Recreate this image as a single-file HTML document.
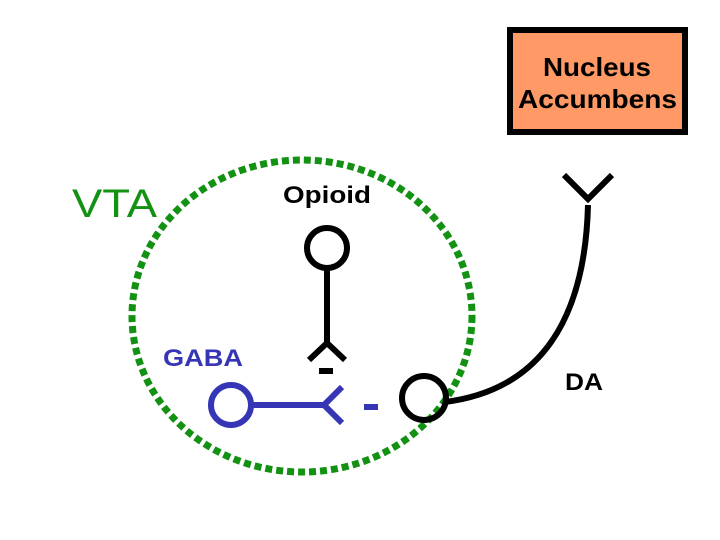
<!DOCTYPE html>
<html><head><style>body{margin:0;background:#fff}svg{display:block}</style></head><body>
<svg width="720" height="540" viewBox="0 0 720 540" xmlns="http://www.w3.org/2000/svg" font-family="Liberation Sans, sans-serif">
<rect x="0" y="0" width="720" height="540" fill="#fff"/>
<ellipse cx="302" cy="316" rx="170" ry="156" fill="none" stroke="#129112" stroke-width="7" stroke-dasharray="7 4"/>
<rect x="510" y="30" width="175" height="102" fill="#FF9966" stroke="#000" stroke-width="6"/>
<text x="543" y="76" font-size="26" font-weight="bold" textLength="108" lengthAdjust="spacingAndGlyphs">Nucleus</text>
<text x="518" y="108" font-size="26" font-weight="bold" textLength="159" lengthAdjust="spacingAndGlyphs">Accumbens</text>
<text x="72" y="217" font-size="40" fill="#129112" textLength="85" lengthAdjust="spacingAndGlyphs">VTA</text>
<text x="283" y="203" font-size="24" font-weight="bold" textLength="88" lengthAdjust="spacingAndGlyphs">Opioid</text>
<text x="163" y="366" font-size="24" font-weight="bold" fill="#3535B5" textLength="80" lengthAdjust="spacingAndGlyphs">GABA</text>
<text x="565" y="390" font-size="24" font-weight="bold" textLength="38" lengthAdjust="spacingAndGlyphs">DA</text>
<g stroke="#000" stroke-width="6" fill="none">
<circle cx="327" cy="248" r="20"/>
<line x1="327" y1="268" x2="327" y2="345"/>
<polyline points="309,360 327,343 345,360"/>
<circle cx="424" cy="398" r="22"/>
<path d="M445 402 C 540 390, 585 320, 588 205"/>
<polyline points="564,175 588,199 612,175"/>
</g>
<rect x="319" y="368" width="14" height="6" fill="#000"/>
<g stroke="#3535B5" stroke-width="6" fill="none">
<circle cx="231" cy="405" r="20"/>
<line x1="251" y1="405" x2="326" y2="405"/>
<polyline points="342,387 324,405 342,423"/>
</g>
<rect x="364" y="404" width="14" height="6" fill="#3535B5"/>
</svg>
</body></html>
